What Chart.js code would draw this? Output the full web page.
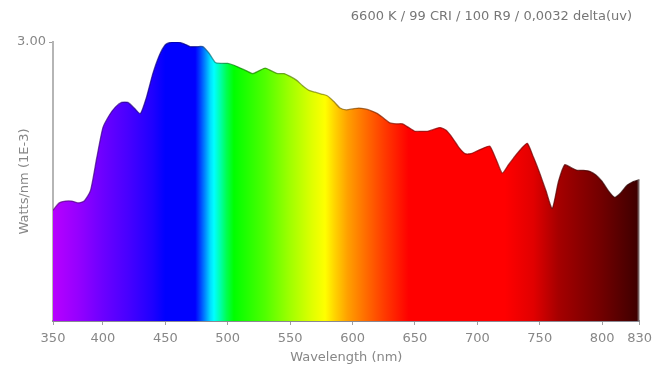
<!DOCTYPE html>
<html>
<head>
<meta charset="utf-8">
<script src="https://cdn.jsdelivr.net/npm/chart.js@4.4.1/dist/chart.umd.min.js"></script>
<style>
  html, body { margin: 0; padding: 0; background: #ffffff; }
  #wrap { width: 658px; height: 368px; }
</style>
</head>
<body>
<div id="wrap"><canvas id="spd" width="658" height="368"></canvas></div>
<script>
// Spectral power distribution of a 6600 K LED source
const titleText = '6600 K / 99 CRI / 100 R9 / 0,0032 delta(uv)';

const wavelengths = [
  360, 365, 370, 375, 380, 385, 390, 395, 400, 405,
  410, 415, 420, 425, 430, 435, 440, 445, 450, 455,
  460, 465, 470, 475, 480, 485, 490, 495, 500, 505,
  510, 515, 520, 525, 530, 535, 540, 545, 550, 555,
  560, 565, 570, 575, 580, 585, 590, 595, 600, 605,
  610, 615, 620, 625, 630, 635, 640, 645, 650, 655,
  660, 665, 670, 675, 680, 685, 690, 695, 700, 705,
  710, 715, 720, 725, 730, 735, 740, 745, 750, 755,
  760, 765, 770, 775, 780, 785, 790, 795, 800, 805,
  810, 815, 820, 825, 830
];

// Watts/nm (1E-3)
const power = [
  1.19, 1.27, 1.29, 1.29, 1.27, 1.29, 1.40, 1.75, 2.08, 2.21,
  2.30, 2.35, 2.35, 2.29, 2.23, 2.41, 2.66, 2.85, 2.97, 3.00,
  3.00, 2.98, 2.95, 2.95, 2.95, 2.88, 2.78, 2.77, 2.77, 2.75,
  2.72, 2.69, 2.66, 2.69, 2.72, 2.69, 2.66, 2.66, 2.63, 2.59,
  2.53, 2.48, 2.46, 2.44, 2.42, 2.36, 2.29, 2.27, 2.28, 2.29,
  2.28, 2.26, 2.23, 2.18, 2.13, 2.12, 2.12, 2.08, 2.04, 2.04,
  2.04, 2.06, 2.08, 2.05, 1.97, 1.87, 1.80, 1.80, 1.83, 1.86,
  1.88, 1.74, 1.59, 1.68, 1.77, 1.85, 1.91, 1.76, 1.59, 1.40,
  1.21, 1.50, 1.68, 1.65, 1.62, 1.62, 1.61, 1.57, 1.50, 1.40,
  1.33, 1.38, 1.46, 1.50, 1.52
];

const xTickValues = [360, 400, 450, 500, 550, 600, 650, 700, 750, 800, 830];
const xTickLabels = ['350', '400', '450', '500', '550', '600', '650', '700', '750', '800', '830'];
const yTickValues = [3];
const yTickLabels = ['3.00'];

// Approximate visible colour for each wavelength
const spectrumStops = [
  [360, [184, 0, 255]], [380, [150, 0, 255]], [400, [108, 0, 255]],
  [420, [72, 0, 255]], [440, [30, 0, 255]], [450, [0, 0, 255]],
  [474, [0, 0, 255]], [478, [0, 64, 255]], [482, [0, 140, 255]],
  [486, [0, 220, 255]], [489, [0, 255, 255]], [494, [0, 255, 170]],
  [499, [0, 255, 80]], [505, [0, 255, 0]], [530, [80, 255, 0]],
  [550, [160, 255, 0]], [568, [225, 255, 0]], [578, [255, 255, 0]],
  [586, [255, 210, 0]], [596, [255, 160, 0]], [610, [255, 110, 0]],
  [625, [255, 60, 0]], [645, [255, 0, 0]], [722, [255, 0, 0]],
  [745, [225, 0, 0]], [765, [165, 0, 0]], [800, [112, 0, 0]],
  [830, [60, 0, 0]]
];

function spectrumGradient(chart, shade, alpha) {
  const area = chart.chartArea;
  const xs = chart.scales.x;
  if (!area || !xs) return null;
  const x0 = xs.getPixelForValue(360), x1 = xs.getPixelForValue(830);
  const g = chart.ctx.createLinearGradient(x0, 0, x1, 0);
  spectrumStops.forEach(([nm, c]) => {
    const t = (xs.getPixelForValue(nm) - x0) / (x1 - x0);
    g.addColorStop(Math.min(1, Math.max(0, t)),
      `rgba(${Math.round(c[0] * shade)},${Math.round(c[1] * shade)},${Math.round(c[2] * shade)},${alpha})`);
  });
  return g;
}

const FONT = 'DejaVu Sans';
const TEXT = '#878787';
const SIZE = 13;

// Heading in the top right corner, plus the closing edge at the last wavelength
const framePlugin = {
  id: 'frame',
  afterDraw(chart) {
    const ctx = chart.ctx;
    const xs = chart.scales.x, ys = chart.scales.y;
    ctx.save();
    const last = wavelengths.length - 1;
    const ex = xs.getPixelForValue(wavelengths[last]) - 1;
    ctx.strokeStyle = 'rgba(150,150,150,0.6)';
    ctx.lineWidth = 2;
    ctx.beginPath();
    ctx.moveTo(ex, ys.getPixelForValue(power[last]));
    ctx.lineTo(ex, ys.getPixelForValue(0));
    ctx.stroke();

    ctx.font = `${SIZE}px "${FONT}"`;
    ctx.fillStyle = '#767676';
    ctx.textAlign = 'right';
    ctx.textBaseline = 'middle';
    ctx.fillText(titleText, 632, 17);
    ctx.restore();
  }
};

new Chart(document.getElementById('spd'), {
  type: 'line',
  data: {
    datasets: [{
      data: wavelengths.map((w, i) => ({ x: w, y: power[i] })),
      fill: 'origin',
      backgroundColor: (c) => spectrumGradient(c.chart, 1, 1),
      borderColor: (c) => spectrumGradient(c.chart, 0.5, 0.7),
      borderWidth: 1.3,
      pointRadius: 0,
      tension: 0.2
    }]
  },
  options: {
    responsive: false,
    animation: false,
    layout: { padding: { top: 42, right: 16, bottom: 0, left: 0 } },
    plugins: { legend: { display: false }, tooltip: { enabled: false } },
    scales: {
      x: {
        type: 'linear',
        min: 360,
        max: 830,
        z: 1,
        afterBuildTicks: (s) => { s.ticks = xTickValues.map(v => ({ value: v })); },
        afterFit: (s) => { s.height = 47; },
        ticks: {
          autoSkip: false,
          maxRotation: 0,
          padding: 6,
          color: TEXT,
          font: { family: FONT, size: SIZE },
          callback: (v, i) => xTickLabels[i]
        },
        grid: { drawOnChartArea: false, drawTicks: true, tickLength: 4, color: '#a0a0a0' },
        border: { color: 'rgba(20,20,40,0.5)', width: 2 },
        title: {
          display: true,
          text: 'Wavelength (nm)',
          color: TEXT,
          font: { family: FONT, size: SIZE },
          padding: { top: 3, bottom: 3 }
        }
      },
      y: {
        min: 0,
        max: 3,
        z: 1,
        afterBuildTicks: (s) => { s.ticks = yTickValues.map(v => ({ value: v })); },
        afterFit: (s) => { s.width = 53; },
        ticks: {
          padding: 3,
          color: TEXT,
          font: { family: FONT, size: SIZE },
          callback: (v, i) => yTickLabels[i]
        },
        grid: { drawOnChartArea: false, drawTicks: true, tickLength: 4, color: '#a0a0a0' },
        border: { color: 'rgba(150,150,150,0.7)', width: 2 },
        title: {
          display: true,
          text: 'Watts/nm (1E-3)',
          color: TEXT,
          font: { family: FONT, size: SIZE },
          padding: { top: 17, bottom: 0 }
        }
      }
    }
  },
  plugins: [framePlugin]
});
</script>
</body>
</html>
